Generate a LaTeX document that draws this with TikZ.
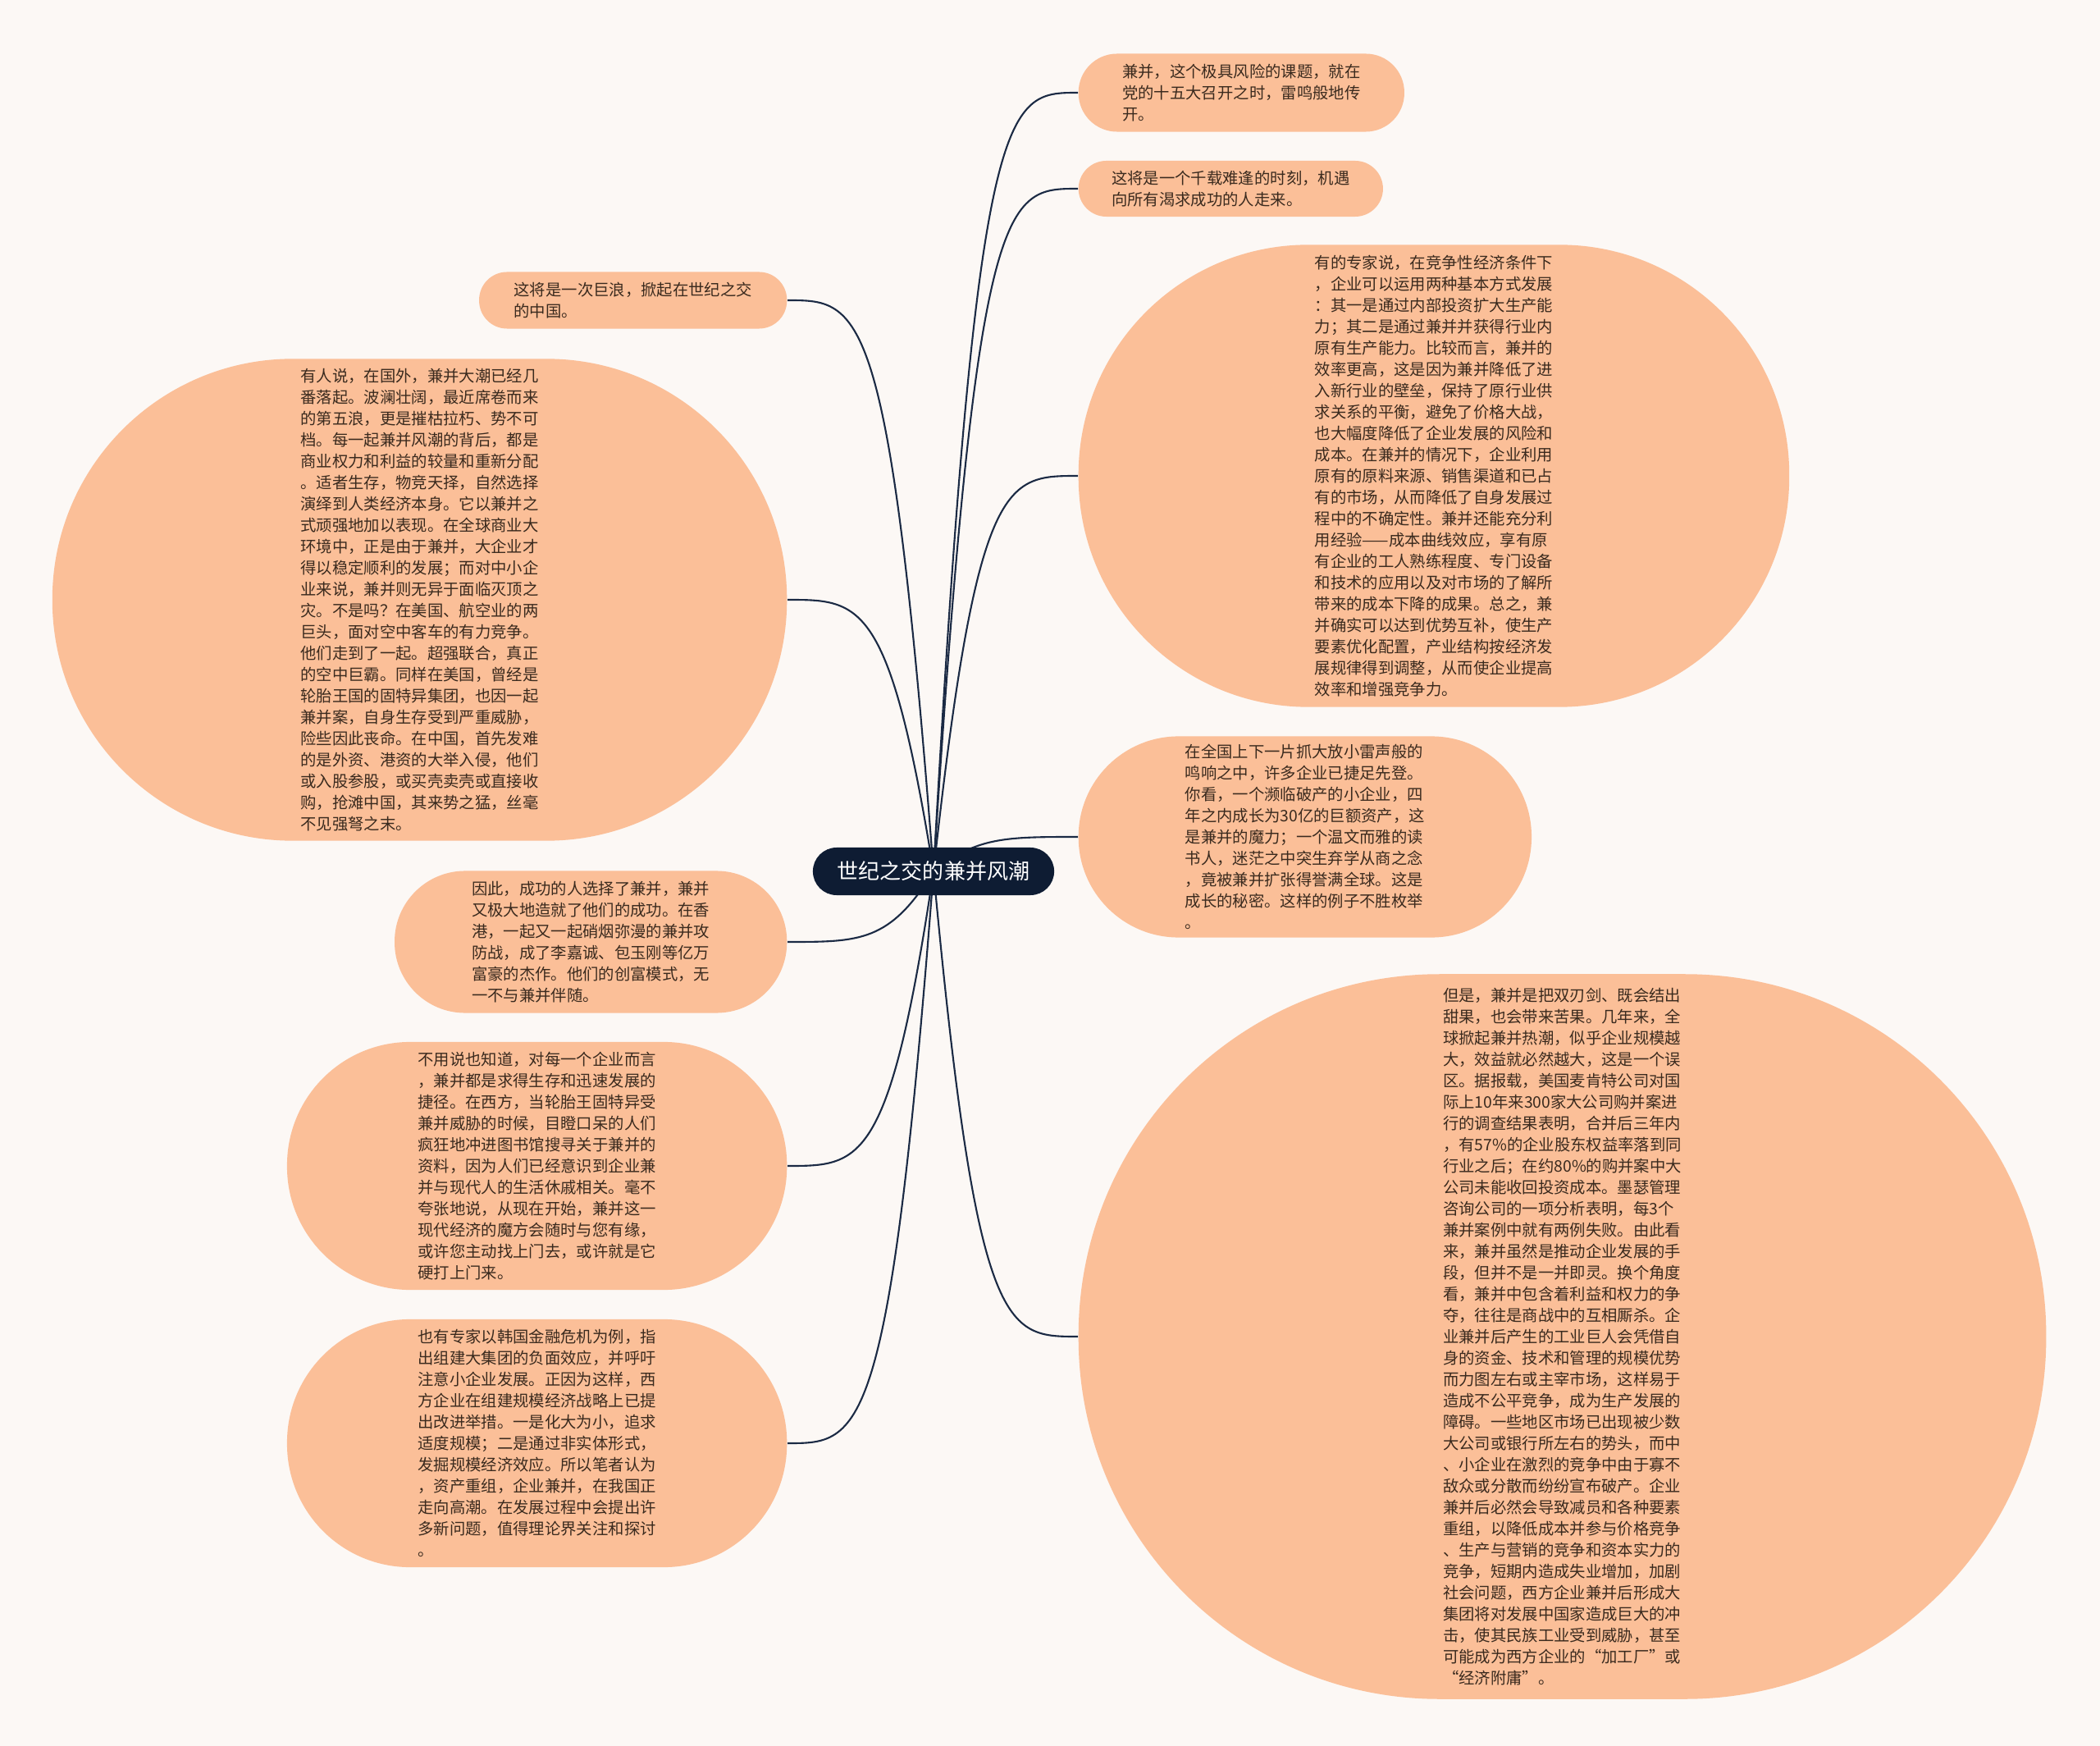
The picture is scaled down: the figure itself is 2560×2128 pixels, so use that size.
\documentclass[tikz,border=0pt]{standalone}
\usepackage{fontspec}
\usepackage{tikz}
\usetikzlibrary{calc, backgrounds}
\newfontfamily\cjk{Noto Sans CJK SC}
\definecolor{bgcream}{HTML}{FCF8F5}
\definecolor{peach}{HTML}{FBBF98}
\definecolor{navy}{HTML}{0E1C33}
\definecolor{ink}{HTML}{3A2A1E}
\definecolor{wire}{HTML}{1B2A44}

\begin{document}
\begin{tikzpicture}[
      x=0.01cm, y=-0.01cm,
      topic/.style={fill=peach, text=ink, align=left, inner sep=0pt,
                    font=\cjk\fontsize{5.5}{7.4}\selectfont},
      root/.style={fill=navy, text=white, inner sep=0pt,
                   font=\cjk\fontsize{7.4}{9}\selectfont},
      link/.style={draw=wire, line width=0.6pt,
                   to path={let \p1=(\tikztostart), \p2=(\tikztotarget) in
                   .. controls (0.7*\x1+0.3*\x2, \y2) and (0.5*\x1+0.5*\x2, \y2)
                   .. (\tikztotarget)}}
    ]
    \node[root, minimum width=2.94cm, minimum height=0.58cm, rounded corners=0.29cm]
          (c) at (1138,1062) {世纪之交的兼并风潮};

    % 右侧分支
    \node[topic, anchor=west, minimum width=3.97cm, minimum height=0.95cm,
          rounded corners=0.47cm] (r1) at (1314,113)
          {兼并，这个极具风险的课题，就在\\党的十五大召开之时，雷鸣般地传\\开。};
    \node[topic, anchor=west, minimum width=3.71cm, minimum height=0.68cm,
          rounded corners=0.34cm] (r2) at (1314,230)
          {这将是一个千载难逢的时刻，机遇\\向所有渴求成功的人走来。};
    \node[topic, anchor=west, minimum width=8.66cm, minimum height=5.63cm,
          rounded corners=2.8cm] (r3) at (1314,580)
          {有的专家说，在竞争性经济条件下\\，企业可以运用两种基本方式发展\\：其一是通过内部投资扩大生产能\\力；其二是通过兼并并获得行业内\\原有生产能力。比较而言，兼并的\\效率更高，这是因为兼并降低了进\\入新行业的壁垒，保持了原行业供\\求关系的平衡，避免了价格大战，\\也大幅度降低了企业发展的风险和\\成本。在兼并的情况下，企业利用\\原有的原料来源、销售渠道和已占\\有的市场，从而降低了自身发展过\\程中的不确定性。兼并还能充分利\\用经验——成本曲线效应，享有原\\有企业的工人熟练程度、专门设备\\和技术的应用以及对市场的了解所\\带来的成本下降的成果。总之，兼\\并确实可以达到优势互补，使生产\\要素优化配置，产业结构按经济发\\展规律得到调整，从而使企业提高\\效率和增强竞争力。};
    \node[topic, anchor=west, minimum width=5.52cm, minimum height=2.45cm,
          rounded corners=1.22cm] (r4) at (1314,1020)
          {在全国上下一片抓大放小雷声般的\\鸣响之中，许多企业已捷足先登。\\你看，一个濒临破产的小企业，四\\年之内成长为30亿的巨额资产，这\\是兼并的魔力；一个温文而雅的读\\书人，迷茫之中突生弃学从商之念\\，竟被兼并扩张得誉满全球。这是\\成长的秘密。这样的例子不胜枚举\\。};
    \node[topic, anchor=west, minimum width=11.79cm, minimum height=8.83cm,
          rounded corners=4.4cm] (r5) at (1314,1629)
          {但是，兼并是把双刃剑、既会结出\\甜果，也会带来苦果。几年来，全\\球掀起兼并热潮，似乎企业规模越\\大，效益就必然越大，这是一个误\\区。据报载，美国麦肯特公司对国\\际上10年来300家大公司购并案进\\行的调查结果表明，合并后三年内\\，有57\%的企业股东权益率落到同\\行业之后；在约80\%的购并案中大\\公司未能收回投资成本。墨瑟管理\\咨询公司的一项分析表明，每3个\\兼并案例中就有两例失败。由此看\\来，兼并虽然是推动企业发展的手\\段，但并不是一并即灵。换个角度\\看，兼并中包含着利益和权力的争\\夺，往往是商战中的互相厮杀。企\\业兼并后产生的工业巨人会凭借自\\身的资金、技术和管理的规模优势\\而力图左右或主宰市场，这样易于\\造成不公平竞争，成为生产发展的\\障碍。一些地区市场已出现被少数\\大公司或银行所左右的势头，而中\\、小企业在激烈的竞争中由于寡不\\敌众或分散而纷纷宣布破产。企业\\兼并后必然会导致减员和各种要素\\重组，以降低成本并参与价格竞争\\、生产与营销的竞争和资本实力的\\竞争，短期内造成失业增加，加剧\\社会问题，西方企业兼并后形成大\\集团将对发展中国家造成巨大的冲\\击，使其民族工业受到威胁，甚至\\可能成为西方企业的“加工厂”或\\“经济附庸”。};

    % 左侧分支
    \node[topic, anchor=east, minimum width=3.75cm, minimum height=0.69cm,
          rounded corners=0.34cm] (l1) at (960,366)
          {这将是一次巨浪，掀起在世纪之交\\的中国。};
    \node[topic, anchor=east, minimum width=8.95cm, minimum height=5.87cm,
          rounded corners=2.93cm] (l2) at (960,731)
          {有人说，在国外，兼并大潮已经几\\番落起。波澜壮阔，最近席卷而来\\的第五浪，更是摧枯拉朽、势不可\\档。每一起兼并风潮的背后，都是\\商业权力和利益的较量和重新分配\\。适者生存，物竞天择，自然选择\\演绎到人类经济本身。它以兼并之\\式顽强地加以表现。在全球商业大\\环境中，正是由于兼并，大企业才\\得以稳定顺利的发展；而对中小企\\业来说，兼并则无异于面临灭顶之\\灾。不是吗？在美国、航空业的两\\巨头，面对空中客车的有力竞争。\\他们走到了一起。超强联合，真正\\的空中巨霸。同样在美国，曾经是\\轮胎王国的固特异集团，也因一起\\兼并案，自身生存受到严重威胁，\\险些因此丧命。在中国，首先发难\\的是外资、港资的大举入侵，他们\\或入股参股，或买壳卖壳或直接收\\购，抢滩中国，其来势之猛，丝毫\\不见强弩之末。};
    \node[topic, anchor=east, minimum width=4.78cm, minimum height=1.73cm,
          rounded corners=0.86cm] (l3) at (960,1148)
          {因此，成功的人选择了兼并，兼并\\又极大地造就了他们的成功。在香\\港，一起又一起硝烟弥漫的兼并攻\\防战，成了李嘉诚、包玉刚等亿万\\富豪的杰作。他们的创富模式，无\\一不与兼并伴随。};
    \node[topic, anchor=east, minimum width=6.09cm, minimum height=3.02cm,
          rounded corners=1.5cm] (l4) at (960,1421)
          {不用说也知道，对每一个企业而言\\，兼并都是求得生存和迅速发展的\\捷径。在西方，当轮胎王固特异受\\兼并威胁的时候，目瞪口呆的人们\\疯狂地冲进图书馆搜寻关于兼并的\\资料，因为人们已经意识到企业兼\\并与现代人的生活休戚相关。毫不\\夸张地说，从现在开始，兼并这一\\现代经济的魔方会随时与您有缘，\\或许您主动找上门去，或许就是它\\硬打上门来。};
    \node[topic, anchor=east, minimum width=6.09cm, minimum height=3.02cm,
          rounded corners=1.5cm] (l5) at (960,1759)
          {也有专家以韩国金融危机为例，指\\出组建大集团的负面效应，并呼吁\\注意小企业发展。正因为这样，西\\方企业在组建规模经济战略上已提\\出改进举措。一是化大为小，追求\\适度规模；二是通过非实体形式，\\发掘规模经济效应。所以笔者认为\\，资产重组，企业兼并，在我国正\\走向高潮。在发展过程中会提出许\\多新问题，值得理论界关注和探讨\\。};

    \begin{scope}[on background layer]
      \fill[bgcream] (0,0) rectangle (2560,2128);
      \foreach \k in {r1,r2,r3,r4,r5}
        \draw[link] (c.center) to (\k.west);
      \foreach \k in {l1,l2,l3,l4,l5}
        \draw[link] (c.center) to (\k.east);
    \end{scope}
\end{tikzpicture}
\end{document}
